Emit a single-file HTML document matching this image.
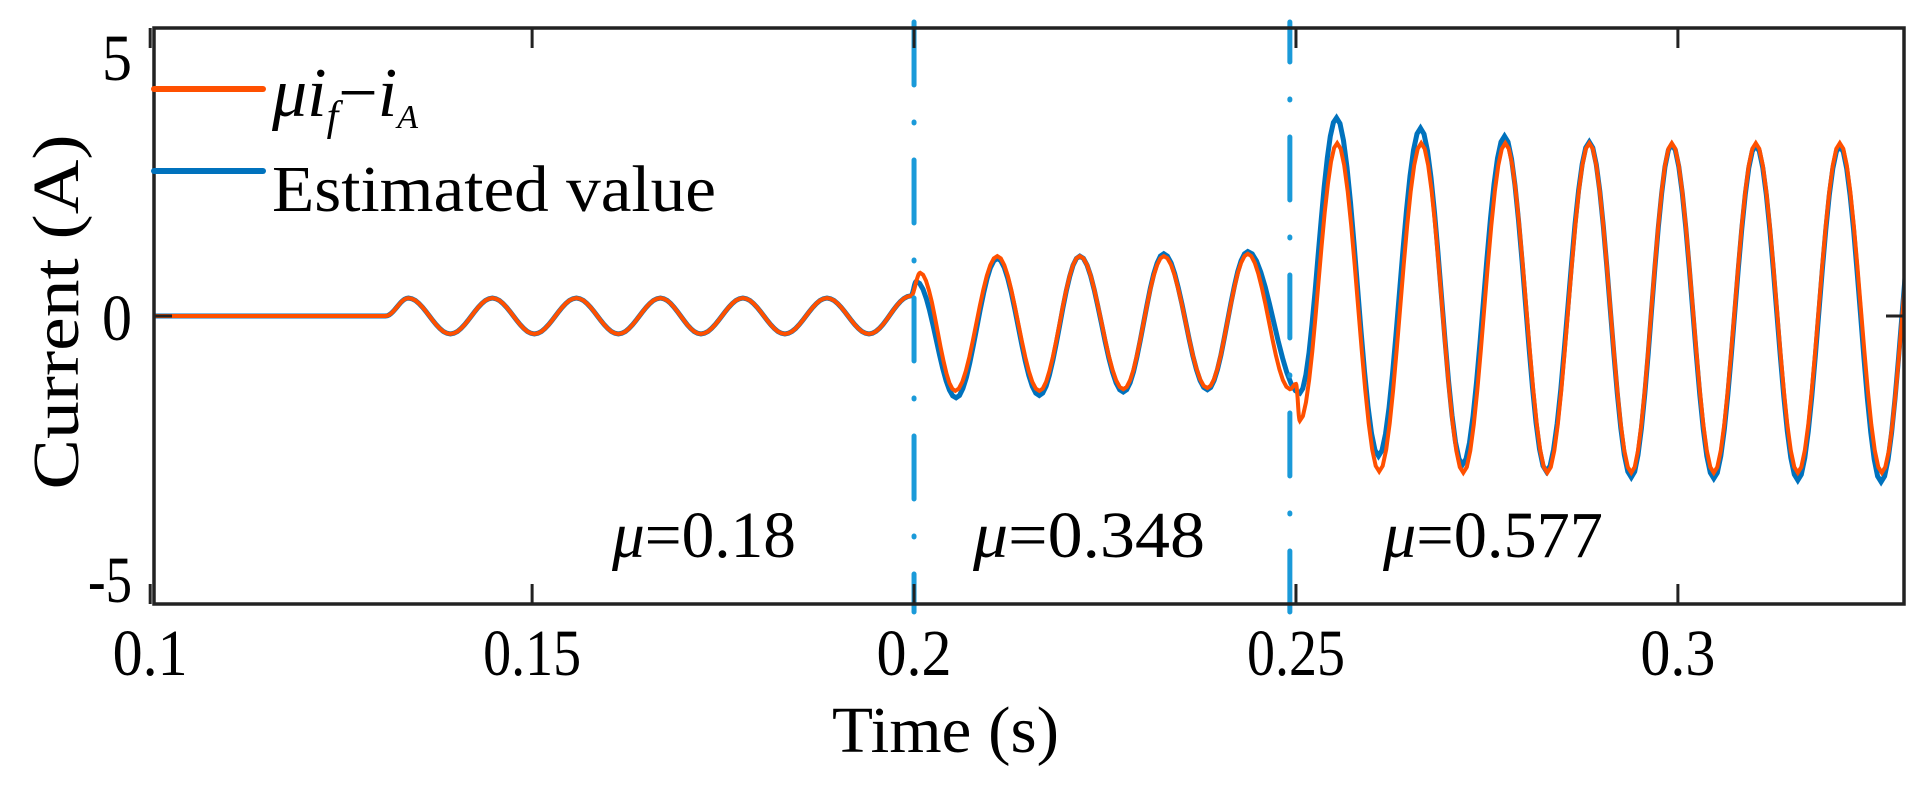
<!DOCTYPE html>
<html><head><meta charset="utf-8"><style>
html,body{margin:0;padding:0;background:#fff;}
svg{display:block;}
text{font-family:"Liberation Serif",serif;fill:#000;}
</style></head><body>
<svg id="chart" width="1919" height="792" viewBox="0 0 1919 792" xmlns="http://www.w3.org/2000/svg">
<g id="plot"></g>
<g id="axes"></g>
<text transform="translate(78,312) rotate(-90)" text-anchor="middle" font-size="66" textLength="355" lengthAdjust="spacingAndGlyphs">Current (A)</text>
<text x="832" y="752" font-size="66" textLength="227" lengthAdjust="spacingAndGlyphs">Time (s)</text>
<text x="612" y="557" font-size="66" textLength="184" lengthAdjust="spacingAndGlyphs"><tspan font-style="italic">μ</tspan>=0.18</text>
<text x="973" y="557" font-size="66" textLength="232" lengthAdjust="spacingAndGlyphs"><tspan font-style="italic">μ</tspan>=0.348</text>
<text x="1383" y="557" font-size="66" textLength="220" lengthAdjust="spacingAndGlyphs"><tspan font-style="italic">μ</tspan>=0.577</text>
<g>
<line x1="154" y1="89" x2="263" y2="89" stroke="#ff5000" stroke-width="6" stroke-linecap="round"/>
<text x="272" y="116" font-size="70" font-style="italic"><tspan>μi</tspan><tspan font-size="42" dy="14">f</tspan><tspan dy="-14" font-style="normal">−</tspan><tspan>i</tspan><tspan font-size="34" dy="12">A</tspan></text>
<line x1="154" y1="171" x2="263" y2="171" stroke="#0072bd" stroke-width="6" stroke-linecap="round"/>
<text x="272" y="211" font-size="66" textLength="444" lengthAdjust="spacingAndGlyphs">Estimated value</text>
</g>
</svg>
<script>
// extrema of the measured signal (time s, current A)
const errT = [0.1005,0.1308,0.1338,0.1393,0.1448,0.1503,0.1558,0.1613,0.1668,0.1721,0.1776,0.1831,0.1886,0.1941,0.1996,0.2008,0.2054,0.2109,0.2164,0.2217,0.2274,0.2327,0.2384,0.2437,0.2492,0.2500,0.2505,0.2554,0.2609,0.2664,0.2719,0.2774,0.2829,0.2884,0.2939,0.2992,0.3047,0.3102,0.3157,0.3212,0.3267,0.3322];
const errV = [0,0,0.31,-0.31,0.31,-0.31,0.31,-0.31,0.31,-0.31,0.31,-0.31,0.31,-0.31,0.35,0.75,-1.30,1.04,-1.30,1.04,-1.27,1.04,-1.25,1.08,-1.27,-1.18,-1.82,3.0,-2.70,3.0,-2.72,3.0,-2.72,3.0,-2.72,3.0,-2.72,3.0,-2.72,3.0,-2.72,3.0];
const estT = [0.1005,0.1308,0.1338,0.1393,0.1448,0.1503,0.1558,0.1613,0.1668,0.1721,0.1776,0.1831,0.1886,0.1941,0.1996,0.2003,0.2055,0.2109,0.2164,0.2217,0.2274,0.2327,0.2384,0.2437,0.2505,0.2553,0.2608,0.2663,0.2718,0.2773,0.2828,0.2884,0.2939,0.2992,0.3047,0.3102,0.3157,0.3212,0.3266,0.3321];
const estV = [0,0,0.31,-0.31,0.31,-0.31,0.31,-0.31,0.31,-0.31,0.31,-0.31,0.31,-0.31,0.35,0.6,-1.42,1.0,-1.38,1.04,-1.32,1.08,-1.28,1.12,-1.34,3.44,-2.43,3.26,-2.58,3.12,-2.70,3.02,-2.80,2.98,-2.82,2.96,-2.85,2.95,-2.88,2.95];
const xTicks = [0.1,0.15,0.2,0.25,0.3];
const xTickLabels = ["0.1","0.15","0.2","0.25","0.3"];
const yTicks = [5,0,-5];
const yTickLabels = ["5","0","-5"];
const switchTimes = [0.2,0.2492];

const L=154,R=1904,T=28,B=604;
const X0=0.1005,X1=0.3296,Y0=-5,Y1=5;
function sx(t){return L+(t-X0)/(X1-X0)*(R-L);}
function sy(v){return B-(v-Y0)/(Y1-Y0)*(B-T);}
const NS="http://www.w3.org/2000/svg";
const plot=document.getElementById('plot'), axes=document.getElementById('axes');

const cp=document.createElementNS(NS,'clipPath');cp.setAttribute('id','clip');
const cr=document.createElementNS(NS,'rect');cr.setAttribute('x',L);cr.setAttribute('y',T);cr.setAttribute('width',R-L);cr.setAttribute('height',B-T);
cp.appendChild(cr);document.getElementById('chart').appendChild(cp);
plot.setAttribute('clip-path','url(#clip)');

function pathFrom(ts,vs){
  let d='M'+sx(ts[0]).toFixed(1)+','+sy(vs[0]).toFixed(1);
  for(let i=0;i<ts.length-1;i++){
    const n=12;
    for(let k=1;k<=n;k++){
      const f=k/n, w=(1-Math.cos(Math.PI*f))/2;
      const t=ts[i]+(ts[i+1]-ts[i])*f, v=vs[i]+(vs[i+1]-vs[i])*w;
      d+='L'+sx(t).toFixed(1)+','+sy(v).toFixed(1);
    }
  }
  return d;
}
const pe=document.createElementNS(NS,'path');
pe.setAttribute('d',pathFrom(estT,estV));pe.setAttribute('fill','none');pe.setAttribute('stroke','#0072bd');pe.setAttribute('stroke-width','5');


plot.appendChild(pe);
const po=document.createElementNS(NS,'path');
po.setAttribute('d',pathFrom(errT,errV));po.setAttribute('fill','none');po.setAttribute('stroke','#ff5000');po.setAttribute('stroke-width','4');


plot.appendChild(po);

switchTimes.forEach((t,i)=>{
  const ln=document.createElementNS(NS,'line');
  ln.setAttribute('x1',sx(t));ln.setAttribute('x2',sx(t));ln.setAttribute('y1',T-6);ln.setAttribute('y2',B+8);
  ln.setAttribute('stroke','#1a9ad9');ln.setAttribute('stroke-width','5');ln.setAttribute('stroke-linecap','round');
  ln.setAttribute('stroke-dasharray','63 37 1 37');ln.setAttribute('stroke-dashoffset',i==0?'0':'-115');
  
  
  axes.appendChild(ln);
});

const box=document.createElementNS(NS,'rect');
box.setAttribute('x',L);box.setAttribute('y',T);box.setAttribute('width',R-L);box.setAttribute('height',B-T);
box.setAttribute('fill','none');box.setAttribute('stroke','#222');box.setAttribute('stroke-width','3.5');


axes.appendChild(box);

xTicks.forEach((t,i)=>{
  const x=sx(t);
  [[B,B-20],[T,T+20]].forEach(p=>{
    const tk=document.createElementNS(NS,'line');
    tk.setAttribute('x1',x);tk.setAttribute('x2',x);tk.setAttribute('y1',p[0]);tk.setAttribute('y2',p[1]);
    tk.setAttribute('stroke','#222');tk.setAttribute('stroke-width','3');
    
    
    axes.appendChild(tk);
  });
  const lb=document.createElementNS(NS,'text');
  lb.setAttribute('x',x);lb.setAttribute('y',675);lb.setAttribute('text-anchor','middle');lb.setAttribute('font-size','66');
  lb.setAttribute('textLength',xTickLabels[i].length>3?98:75);lb.setAttribute('lengthAdjust','spacingAndGlyphs');
  lb.textContent=xTickLabels[i];
  
  
  axes.appendChild(lb);
});
yTicks.forEach((v,i)=>{
  const y=sy(v);
  [[L,L+18],[R,R-18]].forEach(p=>{
    const tk=document.createElementNS(NS,'line');
    tk.setAttribute('x1',p[0]);tk.setAttribute('x2',p[1]);tk.setAttribute('y1',y);tk.setAttribute('y2',y);
    tk.setAttribute('stroke','#222');tk.setAttribute('stroke-width','3');
    
    
    axes.appendChild(tk);
  });
  const lb=document.createElementNS(NS,'text');
  lb.setAttribute('x',132);lb.setAttribute('y',y+(v==5?52:(v==0?24:-2)));lb.setAttribute('text-anchor','end');lb.setAttribute('font-size','66');
  lb.setAttribute('textLength',yTickLabels[i].length>1?44:30);lb.setAttribute('lengthAdjust','spacingAndGlyphs');
  lb.textContent=yTickLabels[i];
  
  
  axes.appendChild(lb);
});
</script>
</body></html>
